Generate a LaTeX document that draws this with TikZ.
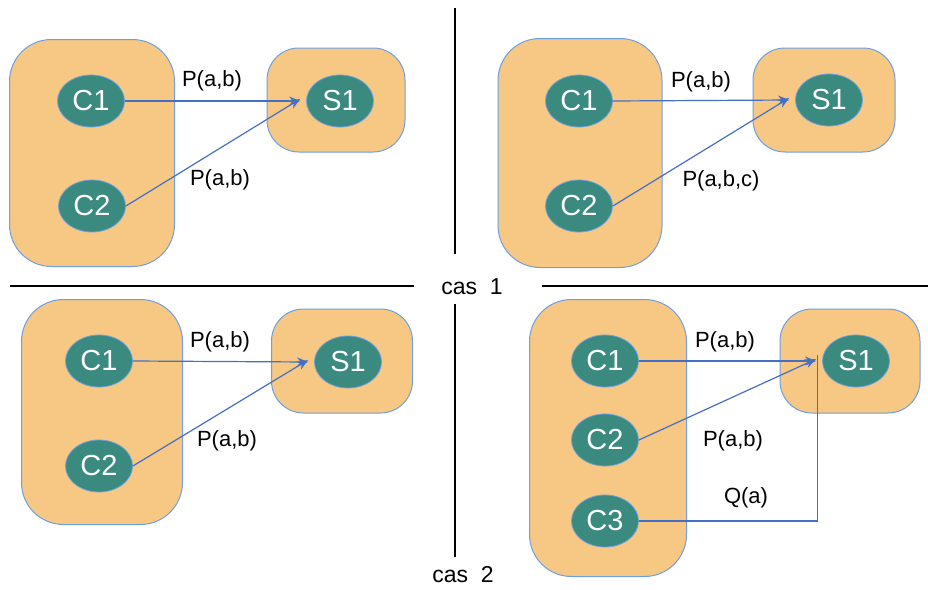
\documentclass[tikz,border=0pt]{standalone}
\usepackage{fontspec}
\setmainfont{Liberation Sans}
\usetikzlibrary{shapes.geometric,arrows.meta}
\definecolor{boxfill}{RGB}{246,200,132}
\definecolor{boxline}{RGB}{110,160,225}
\definecolor{ellfill}{RGB}{58,138,128}
\definecolor{arrowc}{RGB}{70,110,195}
\tikzset{
  bigbox/.style={draw=boxline, line width=1pt, fill=boxfill, rectangle, rounded corners=42pt, inner sep=0pt},
  sbox/.style={draw=boxline, line width=1pt, fill=boxfill, rectangle, rounded corners=32pt, inner sep=0pt, minimum width=140pt, minimum height=104pt},
  proc/.style={draw=boxline, line width=0.8pt, fill=ellfill, ellipse, inner sep=0pt, minimum width=67pt, minimum height=52pt, text=white, font=\fontsize{29}{29}\selectfont},
  lbl/.style={font=\fontsize{22}{22}\selectfont, inner sep=0pt},
  caslbl/.style={font=\fontsize{23}{23}\selectfont, inner sep=0pt},
  msg/.style={draw=arrowc, line width=1.2pt, -{Stealth[length=11pt,width=9pt]}},
  sep/.style={draw=black, line width=2pt}
}
\begin{document}
\begin{tikzpicture}[x=1pt,y=-1pt]
\useasboundingbox (0,0) rectangle (928,589);
% separators
\coordinate (vt1) at (455,8);
\coordinate (vt2) at (455,254);
\coordinate (vb1) at (455,304);
\coordinate (vb2) at (455,557);
\coordinate (hl1) at (10,286);
\coordinate (hl2) at (414,286);
\coordinate (hr1) at (542,286);
\coordinate (hr2) at (928,286);
\draw[sep] (vt1) -- (vt2);
\draw[sep] (vb1) -- (vb2);
\draw[sep] (hl1) -- (hl2);
\draw[sep] (hr1) -- (hr2);
\node[caslbl] (cas1) at (472,287) {cas\ \ 1};
\node[caslbl] (cas2) at (463,575) {cas\ \ 2};

% ---- Quadrant 1 (top-left)
\node[bigbox, minimum width=165pt, minimum height=227pt] (A) at (92,153) {};
\node[sbox, minimum width=138pt] (AS) at (336,100) {};
\node[proc] (AC1) at (91,101) {C1};
\node[proc] (AC2) at (92,206) {C2};
\node[proc] (AS1) at (340,101) {S1};
\draw[msg] (AC1.east) -- ([xshift=-6pt]AS1.west);
\draw[msg] (AC2.east) -- ([xshift=-6pt,yshift=2pt]AS1.west);
\node[lbl] (Al1) at (212,81) {P(a,b)};
\node[lbl] (Al2) at (220,180) {P(a,b)};

% ---- Quadrant 2 (top-right)
\node[bigbox, minimum width=164pt, minimum height=229pt] (B) at (580,153) {};
\node[sbox, minimum width=142pt] (BS) at (824,100) {};
\node[proc] (BC1) at (579,101) {C1};
\node[proc] (BC2) at (579,206) {C2};
\node[proc] (BS1) at (829,100) {S1};
\draw[msg] (BC1.east) -- ([xshift=-6pt]BS1.west);
\draw[msg] (BC2.east) -- ([xshift=-6pt,yshift=2pt]BS1.west);
\node[lbl] (Bl1) at (701,82) {P(a,b)};
\node[lbl] (Bl2) at (721,181) {P(a,b,c)};

% ---- Quadrant 3 (bottom-left)
\node[bigbox, minimum width=161pt, minimum height=225pt] (C) at (102,412) {};
\node[sbox, minimum width=141pt] (CS) at (342,361) {};
\node[proc] (CC1) at (99,361) {C1};
\node[proc] (CC2) at (99,466) {C2};
\node[proc] (CS1) at (348,362) {S1};
\draw[msg] (CC1.east) -- ([xshift=-6pt]CS1.west);
\draw[msg] (CC2.east) -- ([xshift=-6pt,yshift=2pt]CS1.west);
\node[lbl] (Cl1) at (220,342) {P(a,b)};
\node[lbl] (Cl2) at (227,441) {P(a,b)};

% ---- Quadrant 4 (bottom-right)
\node[bigbox, minimum width=157pt, minimum height=277pt] (D) at (608,438) {};
\node[sbox, minimum width=140pt] (DS) at (850,361) {};
\node[proc] (DC1) at (605,361) {C1};
\node[proc] (DC2) at (605,440) {C2};
\node[proc] (DC3) at (605,521) {C3};
\node[proc] (DS1) at (856,361) {S1};
\draw[msg] (DC1.east) -- ([xshift=-6pt]DS1.west);
\draw[msg] (DC2.east) -- ([xshift=-6pt,yshift=2pt]DS1.west);
\coordinate (Dq) at ([xshift=-5pt,yshift=6pt]DS1.west);
\draw[draw=arrowc, line width=1.2pt] (DC3.east) -| (Dq);
\node[lbl] (Dl1) at (725,342) {P(a,b)};
\node[lbl] (Dl2) at (733,441) {P(a,b)};
\node[lbl] (Dl3) at (746,498) {Q(a)};
\end{tikzpicture}
\end{document}
